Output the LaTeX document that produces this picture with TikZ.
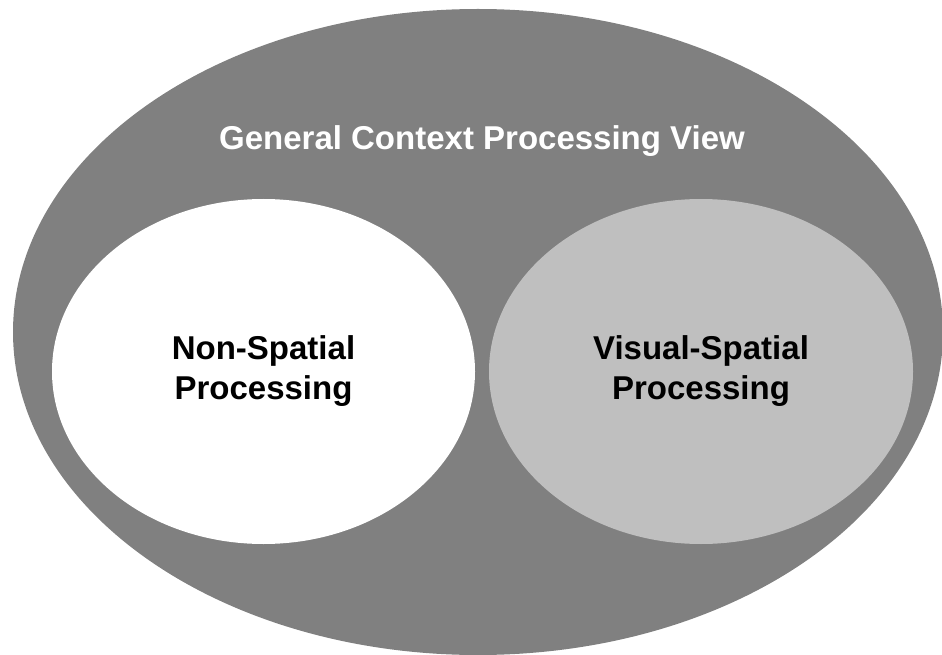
\documentclass[tikz,border=0pt]{standalone}
\usepackage{fontspec}
\setmainfont{Liberation Sans}
\usetikzlibrary{shapes.geometric}
\definecolor{outergray}{HTML}{808080}
\definecolor{innergray}{HTML}{BFBFBF}

\begin{document}
\begin{tikzpicture}[x=1pt,y=-1pt,
    blob/.style={ellipse,inner sep=0pt,align=center,font=\fontsize{33}{40}\selectfont\bfseries}]
        \useasboundingbox (0,0) rectangle (942,655);
        \node[blob,fill=outergray,minimum width=930,minimum height=646] (view) at (478,332) {};
        \node[font=\fontsize{33}{40}\selectfont\bfseries,text=white,anchor=base] (title) at (482,150) {General Context Processing View};
        \node[blob,fill=white,minimum width=423,minimum height=345] (nonspatial) at (263.5,371.5) {Non-Spatial\\Processing};
        \node[blob,fill=innergray,minimum width=424,minimum height=345] (visual) at (701,371.5) {Visual-Spatial\\Processing};
    \end{tikzpicture}
\end{document}
